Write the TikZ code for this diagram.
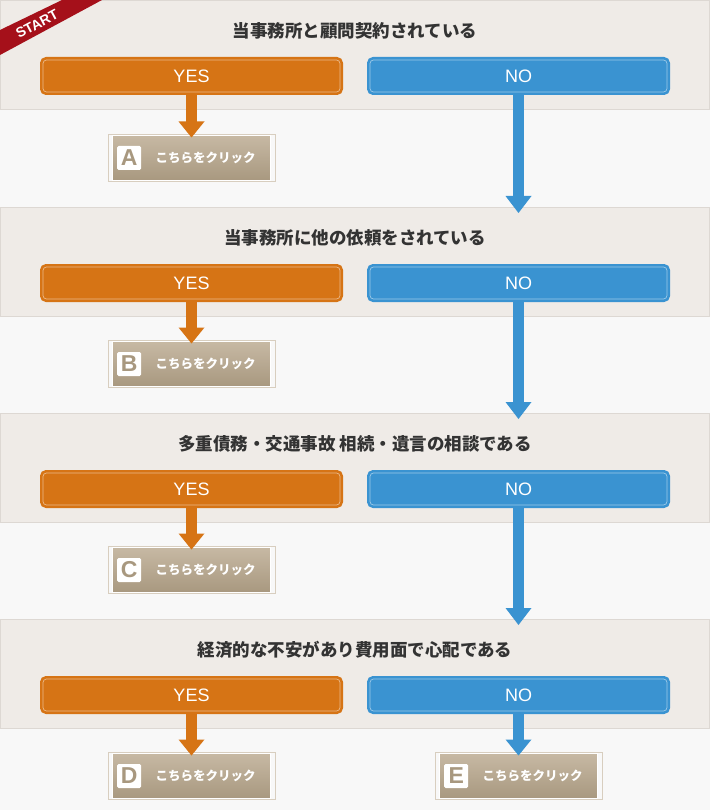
\documentclass[tikz,border=0pt]{standalone}
\usepackage{fontspec}
\setmainfont{Noto Sans CJK JP}
\newfontfamily\latinb{Liberation Sans}
\usetikzlibrary{positioning}
\definecolor{bandbg}{HTML}{EFEBE7}
\definecolor{bandln}{HTML}{DDD8D3}
\definecolor{gapbg}{HTML}{F8F8F8}
\definecolor{yesc}{HTML}{D67415}
\definecolor{noc}{HTML}{3A93D1}
\definecolor{txtc}{HTML}{333333}
\definecolor{boxtop}{HTML}{C7B9A4}
\definecolor{boxbot}{HTML}{A8987F}
\definecolor{ribbon}{HTML}{A5101A}
\tikzset{
  yesbtn/.style={draw=yesc,line width=2pt,fill=yesc,rounded corners=5pt,minimum width=301pt,minimum height=36pt,text=white,font=\latinb\fontsize{18}{18}\selectfont},
  nobtn/.style={yesbtn,draw=noc,fill=noc},
  btnline/.style={white,opacity=0.5,line width=0.7pt,rounded corners=3.5pt},
  question/.style={text=txtc,font=\bfseries\fontsize{17.5}{17.5}\selectfont},
  clickbox/.style={draw=white,line width=1.5pt,top color=boxtop,bottom color=boxbot,minimum width=158pt,minimum height=46pt,inner sep=0pt,
    outer sep=2.5pt,text=white,font=\bfseries\fontsize{12.5}{12.5}\selectfont},
  boxframe/.style={draw=boxtop!70!white,line width=1pt},
  letter/.style={fill=white,text=boxbot,font=\latinb\bfseries\fontsize{23}{23}\selectfont,minimum size=24pt,inner sep=0pt,rounded corners=1.5pt},
  yesarrow/.style={yesc,line width=11pt},
  noarrow/.style={noc,line width=11pt},
}
\begin{document}
\begin{tikzpicture}[x=1pt,y=-1pt]
\useasboundingbox (0,0) rectangle (710,810);
\fill[gapbg] (0,0) rectangle (710,810);
% bands
\foreach \y/\q [count=\i] in {0/当事務所と顧問契約されている,207/当事務所に他の依頼をされている,413/多重債務・交通事故 相続・遺言の相談である,619/経済的な不安があり費用面で心配である}{
  \draw[bandln,fill=bandbg] (0.5,\y+0.5) rectangle (709.5,\y+109.5);
  \coordinate (top\i) at (518.5,\y);
  \node[question] (q\i) at (355,\y+31) {\q};
  \node[yesbtn] (yes\i) at (191.5,\y+76) {YES};
  \node[nobtn] (no\i) at (518.5,\y+76) {NO};
  \draw[btnline] ([shift={(3pt,3pt)}]yes\i.south west) rectangle ([shift={(-3pt,-3pt)}]yes\i.north east);
  \draw[btnline] ([shift={(3pt,3pt)}]no\i.south west) rectangle ([shift={(-3pt,-3pt)}]no\i.north east);
}
% result boxes
\foreach \l/\x/\y in {A/191.5/158,B/191.5/364,C/191.5/570,D/191.5/776,E/518.5/776}{
  \node[clickbox] (box\l) at (\x,\y) {\hspace*{28pt}こちらをクリック};
  \draw[boxframe] ([shift={(-2pt,2pt)}]box\l.south west) rectangle ([shift={(2pt,-2pt)}]box\l.north east);
  \node[letter,right=7pt of box\l.west] {\l};
}
% arrows
\foreach \a/\l/\c in {yes1/A/yesc,yes2/B/yesc,yes3/C/yesc,yes4/D/yesc,no4/E/noc}{
  \coordinate (tip\l) at ([yshift=-5pt]box\l.north);
  \draw[\c,line width=11pt] (\a.south) -- ([yshift=12pt]tip\l);
  \fill[\c] ([xshift=-13pt,yshift=16pt]tip\l) -- ([xshift=13pt,yshift=16pt]tip\l) -- (tip\l) -- cycle;
}
\foreach \i/\j in {1/2,2/3,3/4}{
  \coordinate (tip\i) at ([yshift=-6pt]top\j);
  \draw[noarrow] (no\i.south) -- ([yshift=13pt]tip\i);
  \fill[noc] ([xshift=-13pt,yshift=17pt]tip\i) -- ([xshift=13pt,yshift=17pt]tip\i) -- (tip\i) -- cycle;
}
% start ribbon
\fill[ribbon] (0,30) -- (62,0) -- (102,0) -- (0,55) -- cycle;
\node[text=white,font=\latinb\bfseries\fontsize{14}{14}\selectfont,rotate=28,inner sep=0pt] (start) at (37,24) {START};
\end{tikzpicture}
\end{document}
